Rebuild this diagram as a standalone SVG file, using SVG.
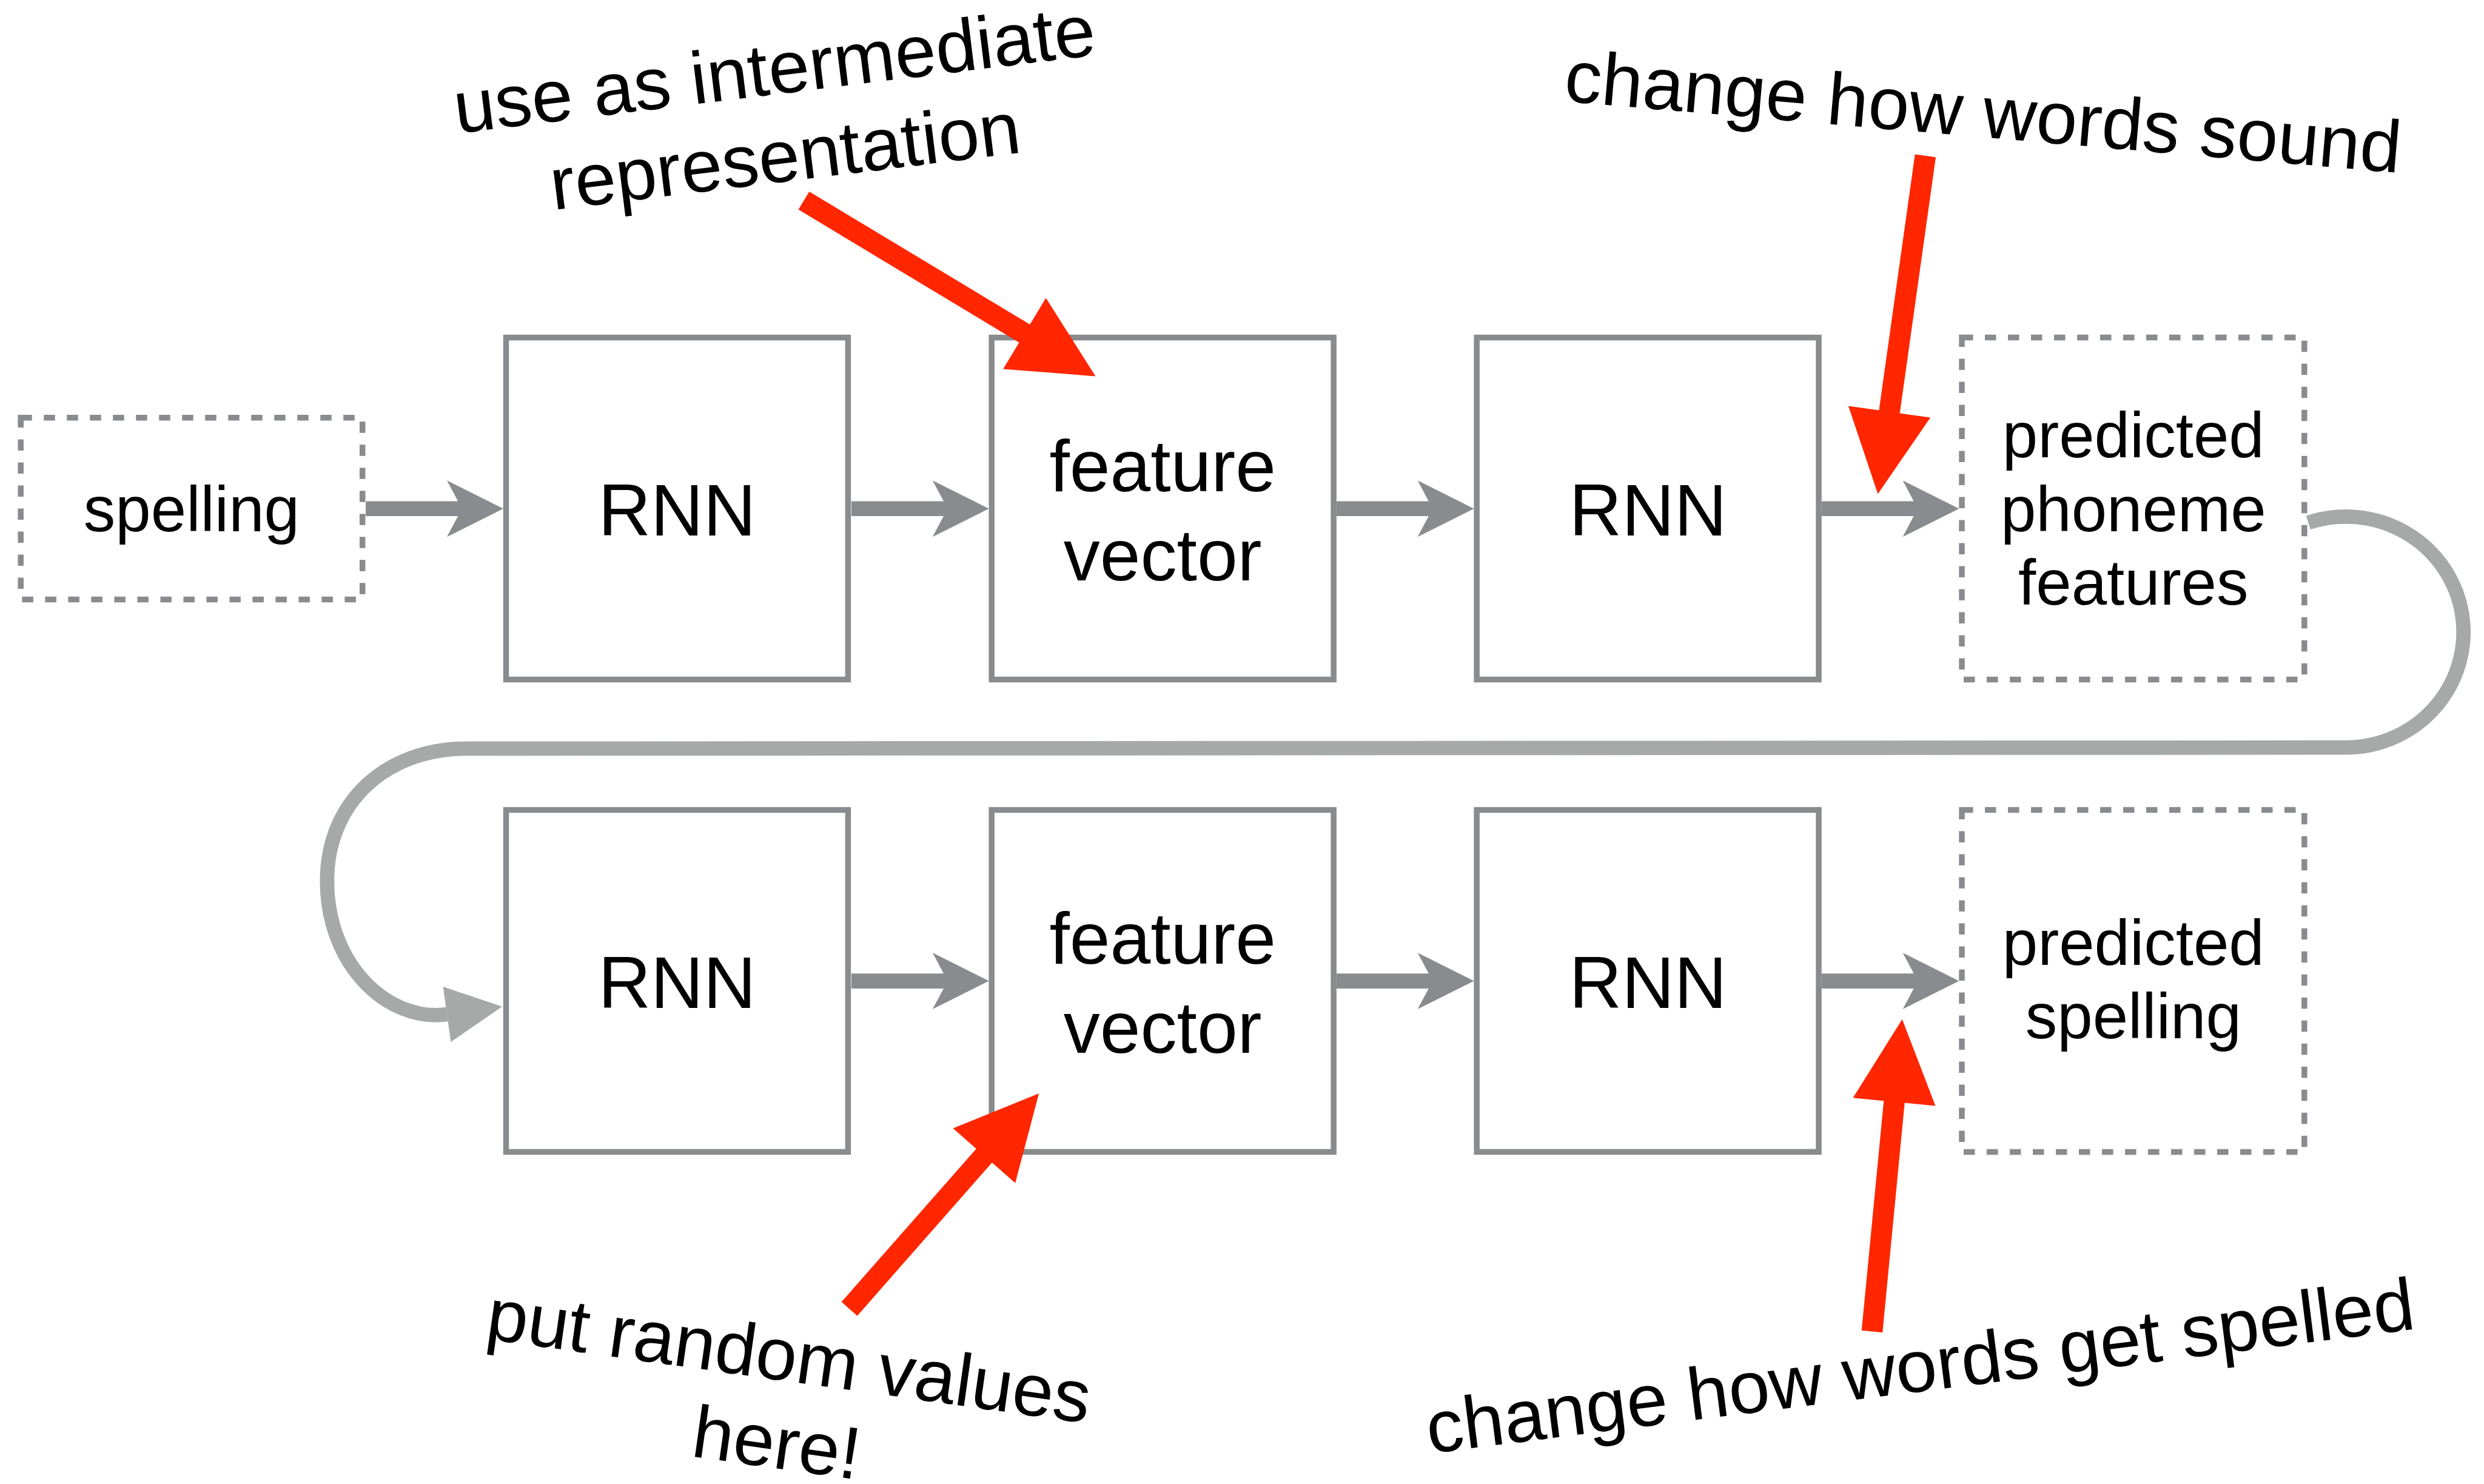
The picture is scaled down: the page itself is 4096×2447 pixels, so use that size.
<svg xmlns="http://www.w3.org/2000/svg" xmlns:xlink="http://www.w3.org/1999/xlink" width="4096" height="2447" viewBox="0 0 4096 2447">
<defs>
<style>
.box{fill:none;stroke:#898b8e;stroke-width:9.5}
.dash{fill:none;stroke:#898b8e;stroke-width:9.5;stroke-dasharray:18.5 19.5}
.lbl{font-family:"Liberation Sans",Arial,sans-serif;fill:#000;text-anchor:middle}
.big{font-size:120px}
.mid{font-size:105px}
.note{font-size:122px}
.red{fill:#ff2600}
.gray{fill:#898b8e}
.loop{fill:none;stroke:#a6a9a8;stroke-width:23.7}
.loophead{fill:#a6a9a8}
</style>
<path id="garrow" d="M -226.8,-12.3 L -74.7,-12.3 L -92.9,-46.5 L 0,0 L -92.9,46.5 L -74.7,12.3 L -226.8,12.3 Z"/>
</defs>
<rect x="0" y="0" width="4096" height="2447" fill="#fff"/>

<g id="node-spelling">
<rect class="dash" x="34.2" y="688.7" width="563.5" height="299.7"/>
<text class="lbl mid" x="315.9" y="876.4">spelling</text>
</g>
<g id="node-rnn1">
<rect class="box" x="834.5" y="556.6" width="563.9" height="563.9"/>
<text class="lbl big" x="1116.4" y="882.8">RNN</text>
</g>
<g id="node-fv1">
<rect class="box" x="1635.2" y="556.6" width="563.9" height="563.9"/>
<text class="lbl big" x="1917.2" y="809.9">feature</text>
<text class="lbl big" x="1917.2" y="956.6">vector</text>
</g>
<g id="node-rnn2">
<rect class="box" x="2435.1" y="556.6" width="563.9" height="563.9"/>
<text class="lbl big" x="2717.5" y="882.8">RNN</text>
</g>
<g id="node-phoneme">
<rect class="dash" x="3235.0" y="556.6" width="564.8" height="563.9"/>
<text class="lbl mid" x="3517.8" y="754.3">predicted</text>
<text class="lbl mid" x="3517.8" y="876.0">phoneme</text>
<text class="lbl mid" x="3517.8" y="996.6">features</text>
</g>
<g id="node-rnn3">
<rect class="box" x="834.5" y="1335.5" width="563.9" height="563.9"/>
<text class="lbl big" x="1116.4" y="1661.7">RNN</text>
</g>
<g id="node-fv2">
<rect class="box" x="1635.2" y="1335.5" width="563.9" height="563.9"/>
<text class="lbl big" x="1917.2" y="1588.8">feature</text>
<text class="lbl big" x="1917.2" y="1735.5">vector</text>
</g>
<g id="node-rnn4">
<rect class="box" x="2435.1" y="1335.5" width="563.9" height="563.9"/>
<text class="lbl big" x="2717.5" y="1661.7">RNN</text>
</g>
<g id="node-predspelling">
<rect class="dash" x="3235.0" y="1335.5" width="564.8" height="563.9"/>
<text class="lbl mid" x="3517.8" y="1590.6">predicted</text>
<text class="lbl mid" x="3517.8" y="1711.8">spelling</text>
</g>

<g id="connectors">
<use xlink:href="#garrow" class="gray" x="829.9" y="838.7"/>
<use xlink:href="#garrow" class="gray" x="1630.7" y="838.7"/>
<use xlink:href="#garrow" class="gray" x="2430.5" y="838.7"/>
<use xlink:href="#garrow" class="gray" x="3230.4" y="838.7"/>
<use xlink:href="#garrow" class="gray" x="1630.7" y="1617.6"/>
<use xlink:href="#garrow" class="gray" x="2430.5" y="1617.6"/>
<use xlink:href="#garrow" class="gray" x="3230.4" y="1617.6"/>
<path class="loop" d="M 3806.2,861.8 A 194 190.4 0 1 1 3871.8,1232.6 L 769.8,1234.4 C 637.7,1234.4 539.3,1321 539.3,1453 C 539.3,1589.7 637.7,1685.4 737,1672.6"/>
<path class="loophead" d="M 730.6,1627 L 828.1,1659.8 L 743.4,1718.1 Z"/>
</g>

<g id="note-intermediate">
<path class="red" transform="translate(1806.5,620.4) rotate(31.06)" d="M -561.5,-17.3 L -136.7,-17.3 L -136.7,-68.3 L 0,0 L -136.7,68.3 L -136.7,17.3 L -561.5,17.3 Z"/>
<text class="lbl note" transform="translate(1281.8,155) rotate(-7)"><tspan x="0" y="0">use as intermediate</tspan><tspan x="0" y="144.8">representation</tspan></text>
</g>
<g id="note-sound">
<path class="red" transform="translate(3096.5,814.4) rotate(98)" d="M -563,-17.3 L -136.7,-17.3 L -136.7,-68.3 L 0,0 L -136.7,68.3 L -136.7,17.3 L -563,17.3 Z"/>
<text class="lbl note" transform="translate(3266.8,225.9) rotate(4.9)">change how words sound</text>
</g>
<g id="note-random">
<path class="red" transform="translate(1713.1,1802.9) rotate(-48.67)" d="M -473.2,-17.3 L -136.7,-17.3 L -136.7,-68.3 L 0,0 L -136.7,68.3 L -136.7,17.3 L -473.2,17.3 Z"/>
<text class="lbl note" transform="translate(1295.4,2277) rotate(8)"><tspan x="0" y="0">put random values</tspan><tspan x="0" y="144.8">here!</tspan></text>
</g>
<g id="note-spelled">
<path class="red" transform="translate(3136.6,1680.8) rotate(-84.49)" d="M -517.1,-17.3 L -136.7,-17.3 L -136.7,-68.3 L 0,0 L -136.7,68.3 L -136.7,17.3 L -517.1,17.3 Z"/>
<text class="lbl note" transform="translate(3171.2,2293.9) rotate(-7.2)">change how words get spelled</text>
</g>
</svg>
